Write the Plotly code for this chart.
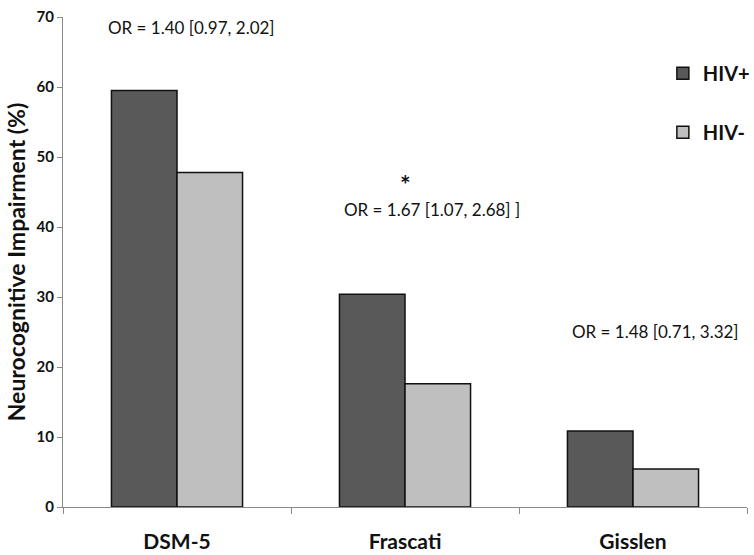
import plotly.graph_objects as go

categories = ["DSM-5", "Frascati", "Gisslen"]
hiv_pos = [59.5, 30.4, 10.85]
hiv_neg = [47.8, 17.6, 5.42]
series_names = ["HIV+", "HIV-"]
or_labels = ["OR = 1.40 [0.97, 2.02]", "OR = 1.67 [1.07, 2.68] ]", "OR = 1.48 [0.71, 3.32]"]
or_x = [0.065, 1.12, 2.10]
or_y = [70.3, 42.5, 25.0]
star_x = [1.0]
star_y = [48.6]
y_ticks = [0, 10, 20, 30, 40, 50, 60, 70]
y_max = 70

FONT = "Lato"

fig = go.Figure()
fig.add_trace(go.Bar(x=categories, y=hiv_pos, name=series_names[0], legendgroup="a",
                     marker=dict(color="#595959", line=dict(color="#111111", width=1.5))))
fig.add_trace(go.Bar(x=categories, y=hiv_neg, name=series_names[1], legendgroup="b",
                     marker=dict(color="#bfbfbf", line=dict(color="#111111", width=1.5))))

for t, xx, yy in zip(or_labels, or_x, or_y):
    fig.add_annotation(x=xx, y=yy / y_max, xref="x", yref="paper", text=t, showarrow=False,
                       font=dict(family=FONT, size=17, color="#111111"))
for xx, yy in zip(star_x, star_y):
    fig.add_annotation(x=xx, y=yy / y_max, xref="x", yref="paper", text="<b>*</b>", showarrow=False,
                       font=dict(family=FONT, size=25, color="#111111"))

fig.update_layout(
    width=754, height=555,
    margin=dict(l=63, r=7, t=17, b=48, autoexpand=False),
    plot_bgcolor="white", paper_bgcolor="white",
    barmode="group", bargap=0.425, bargroupgap=0,
    font=dict(family=FONT, color="#111111"),
    legend=dict(x=0.877, y=0.925, xanchor="left", yanchor="top",
                font=dict(family=FONT, size=20, color="#111111", weight="bold"),
                tracegroupgap=30, bgcolor="rgba(0,0,0,0)"),
    showlegend=True,
)
fig.update_xaxes(type="category", showline=True, linecolor="#8a8a8a", linewidth=1.2,
                 ticks="outside", tickson="boundaries", ticklen=6, tickcolor="#8a8a8a",
                 tickfont=dict(family=FONT, size=21, color="#111111", weight="bold"),
                 ticklabelstandoff=16, showgrid=False, automargin=False)
fig.update_yaxes(range=[0, y_max], tickvals=y_ticks, showline=True, linecolor="#8a8a8a",
                 linewidth=1.2, ticks="outside", ticklen=5, tickcolor="#8a8a8a",
                 tickfont=dict(family=FONT, size=15, color="#111111", weight="bold"),
                 showgrid=False, zeroline=False, automargin=False,
                 title=dict(text="Neurocognitive Impairment (%)", standoff=4,
                            font=dict(family=FONT, size=23, color="#111111", weight="bold")))

fig.write_html("out.html", config={"displayModeBar": False},
               post_script="document.body.style.margin='0';document.body.style.padding='0';")
